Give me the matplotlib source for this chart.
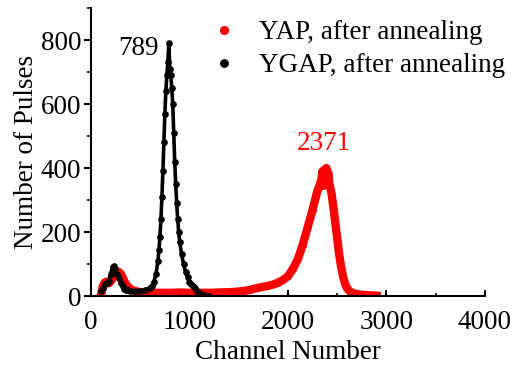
import matplotlib
matplotlib.use('Agg')
import matplotlib.pyplot as plt
from matplotlib.ticker import MultipleLocator

plt.rcParams['font.family'] = ['Liberation Serif', 'DejaVu Serif']

# YAP, after annealing (channel, counts)
yap_ch = [100, 120, 140, 160, 180, 200, 220, 240, 260, 280, 300, 320, 340, 360, 380, 400,
          440, 500, 600, 700, 800, 900, 1000, 1100, 1200, 1300, 1400, 1500, 1600, 1700,
          1800, 1850, 1900, 1950, 2000, 2050, 2100, 2150, 2200, 2250, 2300, 2320, 2340,
          2350, 2360, 2370, 2380, 2390, 2400, 2410, 2420, 2440, 2460, 2480, 2500, 2520,
          2540, 2560, 2580, 2600, 2630, 2660, 2700, 2750, 2800, 2850, 2900]
yap_cnt = [2, 30, 42, 45, 40, 48, 55, 65, 72, 76, 70, 58, 45, 35, 28, 22,
           16, 12, 10, 10, 10, 11, 10, 10, 10, 11, 12, 14, 18, 26,
           32, 36, 42, 50, 62, 85, 115, 160, 215, 270, 330, 345, 365,
           390, 345, 395, 355, 400, 365, 385, 350, 325, 280, 230, 180, 130,
           90, 60, 38, 24, 14, 9, 6, 4, 3, 2, 1]

# YGAP, after annealing
ygap_ch = [100, 120, 140, 160, 180, 200, 220, 230, 240, 260, 280, 300, 320, 340, 360, 380,
           400, 450, 500, 550, 600, 620, 640, 660, 680, 690, 700, 710, 720, 730, 740, 750,
           760, 770, 780, 790, 800, 810, 820, 830, 840, 850, 860, 870, 880, 890, 900, 920,
           940, 960, 980, 1000, 1020, 1040, 1060, 1080, 1100, 1120, 1150, 1200]
ygap_cnt = [15, 25, 38, 42, 48, 70, 92, 95, 85, 70, 55, 42, 30, 23, 20, 18,
            17, 16, 17, 19, 26, 32, 45, 70, 110, 145, 185, 240, 310, 390, 480, 570,
            640, 690, 730, 790, 710, 690, 650, 600, 510, 420, 350, 290, 240, 200, 170, 130,
            100, 75, 58, 45, 38, 32, 24, 15, 9, 5, 3, 1]

fs = 19.5

fig = plt.figure(figsize=(5.15, 3.65), dpi=100)
ax = fig.add_axes([0.1767, 0.189, 0.765, 0.789])

ax.plot(yap_ch, yap_cnt, '-o', color='#ff0000', lw=6, ms=4, label='YAP, after annealing')
ax.plot(ygap_ch, ygap_cnt, '-o', color='black', lw=2.6, ms=3.8, label='YGAP, after annealing')

ax.text(482, 775, '789', fontsize=fs, ha='center', va='center')
ax.text(2365, 478, '2371', fontsize=fs, ha='center', va='center', color='#ff0000')

ax.set_xlim(0, 4000)
ax.set_ylim(0, 900)
ax.spines['top'].set_visible(False)
ax.spines['right'].set_visible(False)
ax.spines['left'].set_linewidth(1.5)
ax.spines['bottom'].set_linewidth(1.5)

ax.xaxis.set_major_locator(MultipleLocator(1000))
ax.xaxis.set_minor_locator(MultipleLocator(500))
ax.yaxis.set_major_locator(MultipleLocator(200))
ax.yaxis.set_minor_locator(MultipleLocator(100))
ax.tick_params(axis='x', which='major', direction='in', length=4, width=1.5, labelsize=fs, pad=10)
ax.tick_params(axis='x', which='minor', direction='in', length=2.5, width=1.2)
ax.tick_params(axis='y', which='major', direction='out', length=5, width=1.5, labelsize=fs, pad=2)
ax.tick_params(axis='y', which='minor', direction='out', length=3, width=1.2)

ax.set_xlabel('Channel Number', fontsize=fs, labelpad=4)
ax.set_ylabel('Number of Pulses', fontsize=fs, labelpad=1)

leg = ax.legend(loc='upper right', bbox_to_anchor=(1.078, 0.995), frameon=False, fontsize=fs,
                handlelength=0.6, handletextpad=1.0, labelspacing=0.3, borderaxespad=0.0,
                markerscale=1.4)
for h in leg.legend_handles:
    h.set_linestyle('None')

fig.savefig('out.png', dpi=100)
